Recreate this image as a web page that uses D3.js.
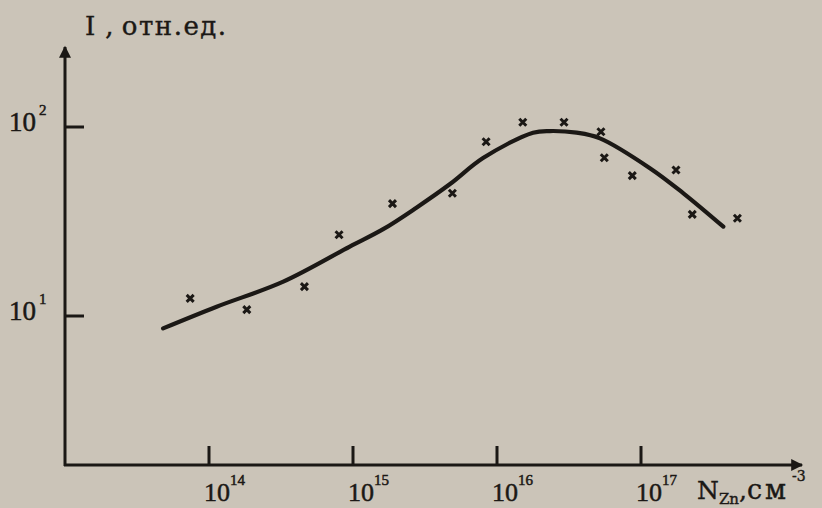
<!DOCTYPE html>
<html>
<head>
<meta charset="utf-8">
<script src="https://cdn.jsdelivr.net/npm/d3@7"></script>
<style>
  body { margin: 0; background: #cbc4b8; }
  svg { display: block; }
</style>
</head>
<body>
<div id="chart"></div>
<script>
"use strict";

// measured points (concentration, relative intensity)
const pointN = [7.4e13, 1.83e14, 4.6e14, 8.0e14, 1.88e15, 4.9e15, 8.4e15, 1.51e16, 2.92e16, 5.27e16, 5.56e16, 8.7e16, 1.75e17, 2.27e17, 4.67e17];
const pointI = [12.4, 10.8, 14.3, 26.9, 39.3, 44.6, 83.6, 105.9, 105.9, 94.4, 68.8, 55.3, 59.2, 34.5, 32.9];

// hand-drawn smooth curve
const curveN = [4.8e13, 1.13e14, 3.28e14, 9.5e14, 1.62e15, 2.74e15, 4.72e15, 8.0e15, 1.78e16, 2.33e16, 3.57e16, 5.19e16, 1.16e17, 1.97e17, 3.73e17];
const curveI = [8.6, 11.2, 15.2, 23.3, 28.8, 37.3, 49.9, 68.5, 93.3, 95.2, 93.3, 87.1, 60.4, 44.6, 29.7];

const xTicks = [1e14, 1e15, 1e16, 1e17];
const yTicks = [10, 100];

const width = 822, height = 508;
const ink = "#1b1815";
const serif = "'Liberation Serif', 'DejaVu Serif', serif";
const wideSerif = "'DejaVu Serif', 'Liberation Serif', serif";

const svg = d3.select("#chart").append("svg")
  .attr("width", width)
  .attr("height", height);

svg.append("rect").attr("width", width).attr("height", height).attr("fill", "#cbc4b8");

/* log scales, one decade ~144 px on x, ~189 px on y */
const x = d3.scaleLog().domain([1e14, 1e17]).range([209, 641]);
const y = d3.scaleLog().domain([10, 100]).range([316, 127]);

const x0 = 65, yBase = 465;

/* arrow marker */
svg.append("defs").append("marker")
  .attr("id", "arrow")
  .attr("viewBox", "0 0 10 10")
  .attr("refX", 9).attr("refY", 5)
  .attr("markerWidth", 5).attr("markerHeight", 4)
  .attr("markerUnits", "strokeWidth")
  .attr("orient", "auto")
  .append("path")
  .attr("d", "M0,0 L10,5 L0,10 Z")
  .attr("fill", ink);

/* axes lines */
svg.append("line")
  .attr("x1", x0).attr("y1", yBase + 1)
  .attr("x2", x0).attr("y2", 47)
  .attr("stroke", ink).attr("stroke-width", 3)
  .attr("marker-end", "url(#arrow)");

svg.append("line")
  .attr("x1", x0 - 1).attr("y1", yBase)
  .attr("x2", 802).attr("y2", yBase)
  .attr("stroke", ink).attr("stroke-width", 3)
  .attr("marker-end", "url(#arrow)");

/* x ticks */
svg.selectAll(".xtick")
  .data(xTicks)
  .enter().append("line")
  .attr("class", "xtick")
  .attr("x1", d => x(d)).attr("x2", d => x(d))
  .attr("y1", yBase).attr("y2", yBase - 19)
  .attr("stroke", ink).attr("stroke-width", 3);

/* y ticks */
svg.selectAll(".ytick")
  .data(yTicks)
  .enter().append("line")
  .attr("class", "ytick")
  .attr("x1", x0).attr("x2", x0 + 19)
  .attr("y1", d => y(d)).attr("y2", d => y(d))
  .attr("stroke", ink).attr("stroke-width", 3);

/* x tick labels: 10 with exponent */
const xLab = svg.selectAll(".xlab")
  .data(xTicks)
  .enter().append("text")
  .attr("class", "xlab")
  .attr("x", d => x(d) - 5)
  .attr("y", 501)
  .attr("fill", ink)
  .attr("stroke", ink).attr("stroke-width", 0.5)
  .style("font-family", serif)
  .style("font-size", "26px");
xLab.append("tspan").text("10");
xLab.append("tspan")
  .attr("dy", -16)
  .style("font-size", "15px")
  .text(d => Math.round(Math.log10(d)));

/* y tick labels */
const yLab = svg.selectAll(".ylab")
  .data(yTicks)
  .enter().append("text")
  .attr("class", "ylab")
  .attr("x", 9)
  .attr("y", d => y(d) + 4)
  .attr("fill", ink)
  .attr("stroke", ink).attr("stroke-width", 0.5)
  .style("font-family", serif)
  .style("font-size", "27px");
yLab.append("tspan").text("10");
yLab.append("tspan")
  .attr("dx", 3)
  .attr("dy", -16)
  .style("font-size", "15px")
  .text(d => Math.round(Math.log10(d)));

/* axis titles */
const yTitle = svg.append("text")
  .attr("x", 85).attr("y", 35)
  .attr("fill", ink)
  .attr("stroke", ink).attr("stroke-width", 0.4)
  .style("font-family", wideSerif)
  .style("font-size", "26px");
yTitle.append("tspan").text("I");
yTitle.append("tspan").attr("dx", 10).text(", ");
yTitle.append("tspan").style("letter-spacing", "1.5px").text("отн.ед.");

const xTitle = svg.append("text")
  .attr("x", 697).attr("y", 499)
  .attr("fill", ink)
  .attr("stroke", ink).attr("stroke-width", 0.4)
  .style("font-family", wideSerif)
  .style("font-size", "25px");
xTitle.append("tspan").text("N");
xTitle.append("tspan").attr("dy", 5).style("font-size", "15px").text("Zn");
xTitle.append("tspan").attr("dy", -5).text(",");
xTitle.append("tspan").style("font-size", "27px").style("letter-spacing", "3px").text("см");
xTitle.append("tspan").attr("dx", 3).attr("dy", -18).style("font-size", "14px").text("-3");

/* smooth curve */
const curveData = curveN.map((n, i) => [n, curveI[i]]);
const line = d3.line()
  .x(d => x(d[0]))
  .y(d => y(d[1]))
  .curve(d3.curveCatmullRom.alpha(0.5));

svg.append("path")
  .datum(curveData)
  .attr("d", line)
  .attr("fill", "none")
  .attr("stroke", ink)
  .attr("stroke-width", 4.2)
  .attr("stroke-linecap", "round");

/* experimental points as small crosses */
const points = pointN.map((n, i) => [n, pointI[i]]);
svg.selectAll(".pt")
  .data(points)
  .enter().append("path")
  .attr("class", "pt")
  .attr("transform", d => "translate(" + x(d[0]) + "," + y(d[1]) + ")")
  .attr("d", "M-3.5,-3.5L3.5,3.5M-3.5,3.5L3.5,-3.5")
  .attr("stroke", ink)
  .attr("stroke-width", 3);
</script>
</body>
</html>
